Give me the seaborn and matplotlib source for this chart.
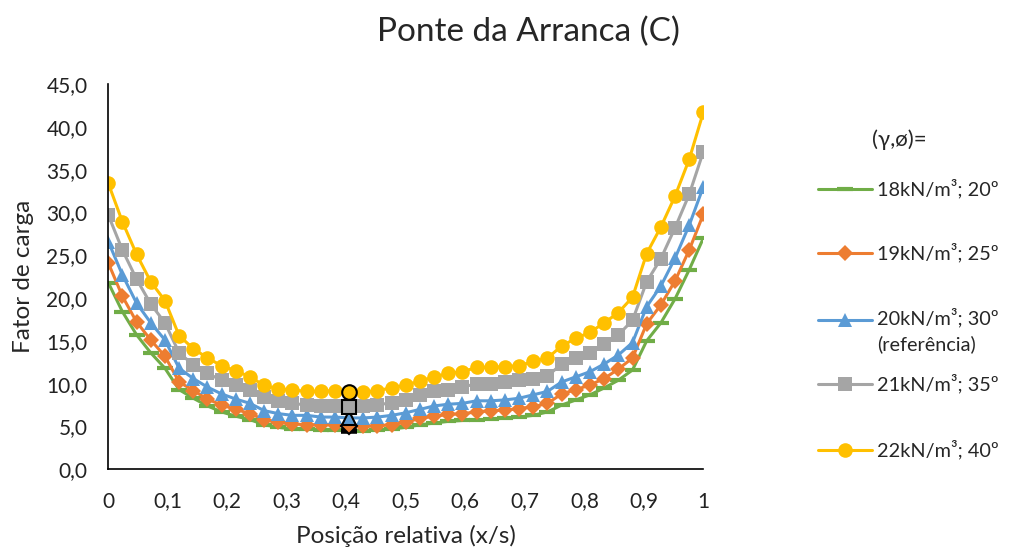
import numpy as np
import pandas as pd
import matplotlib
matplotlib.use("Agg")
import matplotlib.pyplot as plt
from matplotlib.lines import Line2D
import seaborn as sns

# Relative position along the span (43 evenly spaced stations)
positions = [i / 42 for i in range(43)]

# Load factor per soil parameter set
s18_20 = [21.8, 18.4, 15.7, 13.6, 11.8, 9.3, 8.3, 7.4, 6.7, 6.2, 5.8, 5.2, 4.9, 4.7, 4.7,
          4.6, 4.6, 4.5, 4.5, 4.6, 4.7, 4.9, 5.2, 5.4, 5.6, 5.7, 5.75, 5.9, 5.95, 6.1,
          6.3, 6.7, 7.5, 8.1, 8.7, 9.5, 10.4, 11.6, 15.0, 17.1, 19.9, 23.3, 27.0]
s19_25 = [24.1, 20.2, 17.2, 15.1, 13.2, 10.2, 9.2, 8.2, 7.5, 7.0, 6.5, 5.8, 5.5, 5.3, 5.2,
          5.2, 5.2, 5.1, 5.0, 5.1, 5.2, 5.5, 5.95, 6.2, 6.4, 6.5, 6.7, 6.85, 6.9, 7.1,
          7.3, 7.7, 8.8, 9.3, 9.85, 10.6, 11.7, 13.0, 17.0, 19.2, 22.0, 25.6, 29.8]
s20_30 = [26.6, 22.7, 19.4, 17.1, 15.1, 11.8, 10.6, 9.6, 8.8, 8.2, 7.7, 6.85, 6.5, 6.3, 6.3,
          6.1, 6.1, 6.0, 6.0, 6.1, 6.3, 6.6, 7.0, 7.4, 7.6, 7.7, 8.0, 8.0, 8.1, 8.3,
          8.7, 9.1, 10.2, 10.8, 11.4, 12.3, 13.35, 14.8, 19.0, 21.4, 24.65, 28.5, 33.0]
s21_35 = [29.7, 25.6, 22.2, 19.3, 17.1, 13.6, 12.2, 11.2, 10.4, 9.8, 9.3, 8.4, 8.0, 7.7, 7.5,
          7.4, 7.4, 7.3, 7.4, 7.5, 7.8, 8.1, 8.7, 9.1, 9.3, 9.65, 9.95, 9.95, 10.2, 10.4,
          10.6, 10.9, 12.3, 13.0, 13.6, 14.6, 15.7, 17.4, 21.9, 24.6, 28.2, 32.1, 37.1]
s22_40 = [33.4, 28.9, 25.1, 21.9, 19.7, 15.6, 14.1, 13.0, 12.1, 11.5, 10.8, 9.8, 9.4, 9.26, 9.1,
          9.1, 9.2, 9.0, 9.0, 9.2, 9.5, 9.85, 10.3, 10.8, 11.2, 11.4, 11.9, 11.9, 12.0, 12.1,
          12.6, 13.0, 14.4, 15.3, 16.0, 17.1, 18.3, 20.1, 25.2, 28.3, 31.9, 36.2, 41.7]

labels = ["18kN/m³; 20º", "19kN/m³; 25º", "20kN/m³; 30º\n(referência)",
          "21kN/m³; 35º", "22kN/m³; 40º"]
series = [s18_20, s19_25, s20_30, s21_35, s22_40]
colors = ["#70AD47", "#ED7D31", "#5B9BD5", "#A5A5A5", "#FFC000"]
markers = ["_", "D", "^", "s", "o"]
msizes = [11, 8, 10, 9.5, 10.5]

# Station highlighted with outlined markers
ref_index = 17

sns.set_style("white")
plt.rcParams["font.family"] = ["Lato", "DejaVu Sans"]

fig = plt.figure(figsize=(10.11, 5.51), dpi=100)
ax = fig.add_axes([0.1071, 0.1483, 0.5886, 0.6992])

for vals, col, mk, ms in zip(series, colors, markers, msizes):
    df = pd.DataFrame({"x": positions, "y": vals})
    mew = 3 if mk == "_" else 0
    sns.lineplot(data=df, x="x", y="y", ax=ax, color=col, linewidth=2.2,
                 marker=mk, markersize=ms, markeredgewidth=mew,
                 markeredgecolor=col, legend=False, sort=False)

for vals, col, mk, ms in zip(series, colors, markers, msizes):
    if mk == "_":
        ax.plot([positions[ref_index]], [vals[ref_index]], marker=mk, markersize=ms,
                markeredgewidth=4, color="black", zorder=5)
    else:
        ax.plot([positions[ref_index]], [vals[ref_index]], marker=mk, markersize=ms,
                markerfacecolor=col, markeredgecolor="black", markeredgewidth=1.5,
                linestyle="none", zorder=5)

ax.set_xlim(0, 1)
ax.set_ylim(0, 45)
xt = np.round(np.arange(0, 1.01, 0.1), 1)
ax.set_xticks(xt)
ax.set_xticklabels(["0" if v == 0 else "1" if v == 1 else f"{v:.1f}".replace(".", ",")
                    for v in xt], fontsize=15)
yt = np.arange(0, 46, 5)
ax.set_yticks(yt)
ax.set_yticklabels([f"{v:.1f}".replace(".", ",") for v in yt], fontsize=15)
ax.tick_params(axis="both", direction="out", length=6, width=1.2, color="black",
               colors="#222222")
ax.tick_params(axis="x", pad=10)
ax.tick_params(axis="y", pad=9)
for side in ["top", "right"]:
    ax.spines[side].set_visible(False)
for side in ["left", "bottom"]:
    ax.spines[side].set_color("black")
    ax.spines[side].set_linewidth(1.2)
ax.grid(False)
ax.set_xlabel("Posição relativa (x/s)", fontsize=17.5, labelpad=10)
ax.set_ylabel("Fator de carga", fontsize=17.5)
ax.yaxis.set_label_coords(-0.125, 0.5)

fig.text(0.523, 0.942, "Ponte da Arranca (C)", fontsize=24, ha="center", va="center")

# Legend column on the right
fig.text(899 / 1011, 1 - 140 / 551, "(γ,ø)=", fontsize=16, ha="center", va="center")
legend_y = [189, 253, 320, 384, 450]
for y, lab, col, mk, ms in zip(legend_y, labels, colors, markers, msizes):
    fy = 1 - y / 551
    fig.add_artist(Line2D([818 / 1011, 872 / 1011], [fy, fy], color=col, linewidth=2.2,
                          transform=fig.transFigure))
    mew = 3 if mk == "_" else 0
    fig.add_artist(Line2D([845 / 1011], [fy], color=col, marker=mk, markersize=ms,
                          markeredgewidth=mew, markeredgecolor=col,
                          transform=fig.transFigure))
    if "\n" in lab:
        fig.text(877 / 1011, fy + 12.5 / 551, lab, fontsize=14.3, ha="left", va="top",
                 linespacing=1.55)
    else:
        fig.text(877 / 1011, fy, lab, fontsize=14.3, ha="left", va="center")

fig.savefig("out.png", dpi=100, facecolor="white")
